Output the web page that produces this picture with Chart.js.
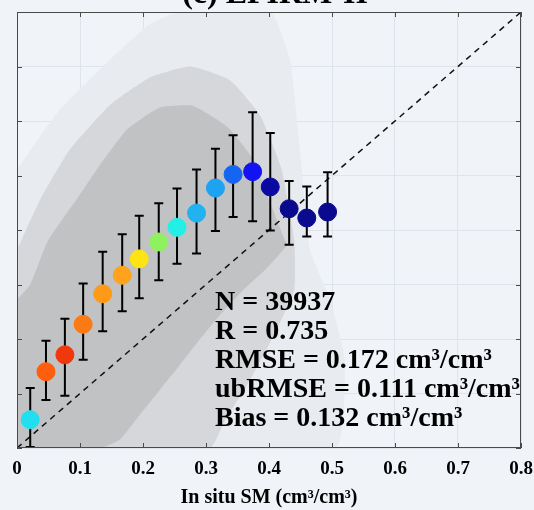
<!DOCTYPE html>
<html>
<head>
<meta charset="utf-8">
<script src="https://cdn.jsdelivr.net/npm/chart.js@4.4.0/dist/chart.umd.min.js"></script>
<style>
  html, body { margin: 0; padding: 0; background: #f0f4f9; }
  #wrap { position: relative; width: 534px; height: 510px; }
</style>
</head>
<body>
<div id="wrap"><canvas id="myChart" width="534" height="510"></canvas></div>
<script>
// binned means (x = in situ SM, y = estimated SM) with +/- std
const binX    = [0.021, 0.046, 0.076, 0.105, 0.136, 0.167, 0.194, 0.225, 0.254, 0.285, 0.315, 0.343, 0.374, 0.402, 0.432, 0.460, 0.493]
const binMean = [0.052, 0.140, 0.171, 0.227, 0.283, 0.317, 0.347, 0.378, 0.405, 0.431, 0.477, 0.502, 0.507, 0.479, 0.439, 0.422, 0.433]
const binLo   = [0.002, 0.088, 0.096, 0.162, 0.214, 0.251, 0.275, 0.308, 0.338, 0.357, 0.398, 0.424, 0.416, 0.399, 0.373, 0.388, 0.388]
const binHi   = [0.110, 0.197, 0.237, 0.302, 0.360, 0.392, 0.426, 0.449, 0.476, 0.511, 0.549, 0.574, 0.616, 0.578, 0.490, 0.480, 0.506]

// outline of the scatter cloud (sparse halo, medium, dense core)
const haloX  = [0, 0.068, 0.148, 0.211, 0.259, 0.402, 0.433, 0.449, 0.465, 0.497, 0.520, 0.505, 0]
const haloY  = [0.511, 0.621, 0.713, 0.778, 0.800, 0.800, 0.713, 0.548, 0.364, 0.272, 0.162, 0, 0]
const midX   = [0, 0.037, 0.084, 0.148, 0.211, 0.275, 0.338, 0.386, 0.420, 0.440, 0.440, 0.412, 0.370, 0.330, 0.306, 0]
const midY   = [0.364, 0.456, 0.548, 0.630, 0.680, 0.700, 0.675, 0.610, 0.511, 0.382, 0.290, 0.217, 0.125, 0.051, 0, 0]
const denseX = [0, 0.021, 0.049, 0.100, 0.132, 0.175, 0.227, 0.279, 0.333, 0.375, 0.400, 0.425, 0.429, 0.394, 0.359, 0.322, 0.290, 0.259, 0.227, 0.195, 0.163, 0.132, 0]
const denseY = [0.272, 0.300, 0.380, 0.465, 0.520, 0.585, 0.625, 0.628, 0.590, 0.530, 0.456, 0.382, 0.373, 0.327, 0.290, 0.244, 0.199, 0.153, 0.107, 0.061, 0.015, 0, 0]

const tickValues = [0, 0.1, 0.2, 0.3, 0.4, 0.5, 0.6, 0.7, 0.8]
const statLines = [
    'N = 39937',
    'R = 0.735',
    'RMSE = 0.172 cm³/cm³',
    'ubRMSE = 0.111 cm³/cm³',
    'Bias = 0.132 cm³/cm³',
]
const titleText = '(c) EPIRM-II'

const pointColors = ['#22dff0', '#ff5e0c', '#f0380c', '#fb7a14', '#ff9a16', '#ffa21c', '#ffe414', '#8ef15e', '#22f0e6',
    '#22b2f2', '#1ea2f2', '#1466f2', '#1212f2', '#0a0aa2', '#0a0a8e', '#0a0a8e', '#0a0a8e']

const toPts = (xs, ys) => xs.map((v, i) => ({x: v, y: ys[i]}))
const serif = "'Liberation Serif', 'Times New Roman', serif"

const extras = {
    id: 'extras',
    beforeDatasetDraw(chart, args) {
        if (args.index !== 0) return
        const {ctx, scales: {x, y}} = chart
        ctx.save()
        ctx.strokeStyle = '#000'
        ctx.lineWidth = 2
        binX.forEach((v, i) => {
            const px = x.getPixelForValue(v)
            const lo = y.getPixelForValue(binLo[i])
            const hi = y.getPixelForValue(binHi[i])
            ctx.beginPath()
            ctx.moveTo(px, lo); ctx.lineTo(px, hi)
            ctx.moveTo(px - 4.5, lo); ctx.lineTo(px + 4.5, lo)
            ctx.moveTo(px - 4.5, hi); ctx.lineTo(px + 4.5, hi)
            ctx.stroke()
        })
        ctx.restore()
    },
    afterDraw(chart) {
        const {ctx, chartArea: a, scales: {x, y}} = chart
        ctx.save()
        // frame and inward ticks
        ctx.strokeStyle = '#4a4a4a'
        ctx.lineWidth = 1
        ctx.strokeRect(a.left + 0.5, a.top + 0.5, a.right - a.left - 1, a.bottom - a.top - 1)
        ctx.beginPath()
        tickValues.forEach(v => {
            const px = Math.round(x.getPixelForValue(v)) + 0.5
            ctx.moveTo(px, a.bottom); ctx.lineTo(px, a.bottom - 5)
            ctx.moveTo(px, a.top); ctx.lineTo(px, a.top + 5)
            const py = Math.round(y.getPixelForValue(v)) + 0.5
            ctx.moveTo(a.left, py); ctx.lineTo(a.left + 5, py)
            ctx.moveTo(a.right, py); ctx.lineTo(a.right - 5, py)
        })
        ctx.stroke()
        // stats text
        ctx.fillStyle = '#000'
        ctx.font = 'bold 28px ' + serif
        ctx.textBaseline = 'alphabetic'
        ctx.textAlign = 'left'
        statLines.forEach((t, i) => ctx.fillText(t, 215, 310 + i * 29))
        // title (cut by the top of the picture)
        ctx.font = 'bold 32px ' + serif
        ctx.textAlign = 'center'
        ctx.fillText(titleText, (a.left + a.right) / 2 + 6, 3)
        ctx.restore()
    }
}

const cloud = (xs, ys, color) => ({
    type: 'line',
    data: toPts(xs, ys),
    borderWidth: 0,
    borderColor: 'rgba(0,0,0,0)',
    backgroundColor: color,
    pointRadius: 0,
    tension: 0.15,
    fill: 'shape',
})

const data = {
    datasets: [{
        type: 'scatter',
        data: toPts(binX, binMean),
        pointRadius: 9,
        pointHoverRadius: 9,
        pointBackgroundColor: pointColors,
        pointBorderColor: pointColors,
        pointBorderWidth: 1,
    }, {
        type: 'line',
        data: [{x: 0, y: 0}, {x: 0.8, y: 0.8}],
        borderColor: '#111',
        borderWidth: 1.5,
        borderDash: [6, 5],
        pointRadius: 0,
        fill: false,
    },
    cloud(denseX, denseY, '#c1c2c4'),
    cloud(midX, midY, '#d5d7da'),
    cloud(haloX, haloY, '#e8ebef'),
    ]
}

const config = {
    type: 'scatter',
    data: data,
    options: {
        responsive: false,
        animation: false,
        events: [],
        layout: { padding: { top: 12, left: 17, right: 13, bottom: 0 } },
        plugins: {
            legend: { display: false },
            tooltip: { enabled: false },
            title: { display: false },
        },
        scales: {
            x: {
                type: 'linear',
                min: 0,
                max: 0.8,
                afterBuildTicks: axis => { axis.ticks = tickValues.map(v => ({value: v})) },
                afterFit: axis => { axis.paddingLeft = 0; axis.paddingRight = 0; axis.height = 62 },
                grid: { color: '#dfe4ea', drawTicks: false },
                border: { display: false },
                ticks: {
                    padding: 10,
                    color: '#000',
                    font: { family: serif, size: 19, weight: 'bold' },
                    callback: v => String(Math.round(v * 10) / 10),
                },
                title: {
                    display: true,
                    text: 'In situ SM (cm³/cm³)',
                    color: '#000',
                    font: { family: serif, size: 20, weight: 'bold' },
                    padding: { top: 2, bottom: 0 },
                },
            },
            y: {
                type: 'linear',
                min: 0,
                max: 0.8,
                afterBuildTicks: axis => { axis.ticks = tickValues.map(v => ({value: v})) },
                afterFit: axis => { axis.paddingTop = 0; axis.paddingBottom = 0 },
                grid: { color: '#dfe4ea', drawTicks: false },
                border: { display: false },
                ticks: { display: false },
            }
        }
    },
    plugins: [extras],
}

const myChart = new Chart(document.getElementById('myChart'), config)
</script>
</body>
</html>
